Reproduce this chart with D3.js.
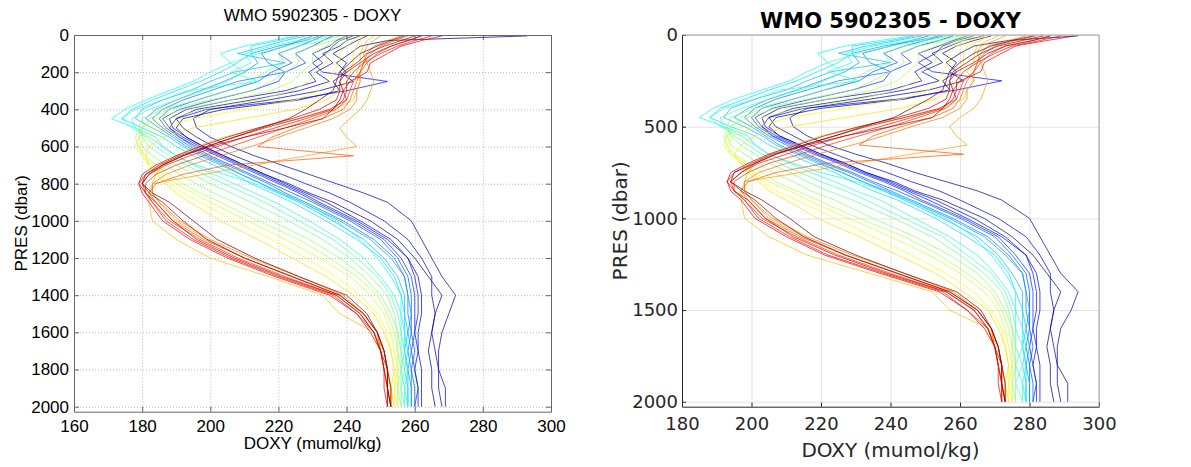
<!DOCTYPE html>
<html><head><meta charset="utf-8">
<script src="https://cdn.jsdelivr.net/npm/d3@7"></script>
<style>body{margin:0;background:#fff}svg{display:block}</style>
</head><body>
<svg id="c" width="1191" height="467"></svg>
<script>
const chartTitle = "WMO 5902305 - DOXY";
const xLabel = "DOXY (mumol/kg)";
const yLabel = "PRES (dbar)";

const pres = [5,30,60,100,150,200,250,300,350,400,450,500,550,600,650,700,750,800,850,900,1000,1100,1200,1300,1400,1500,1600,1700,1800,1900,2000];

// Left panel: raw DOXY profiles (cycle order, blue -> red)
const doxyRaw = [
[293,252,244,241,237,240,236,238,226,204,192,190,193,198,204,210,216,223,229,236,247,255,260,264,268,266,265,264,265,265,266],
[246,243,240,236,240,238,242,232,217,200,195,196,200,206,213,221,229,237,245,252,259,262,265,268,272,270,268,267,267,269,269],
[244,240,238,233,236,231,235,226,212,196,190,192,196,201,207,214,221,228,235,241,251,258,262,265,265,266,265,266,267,267,268],
[240,237,235,230,233,229,231,222,206,193,188,189,193,198,204,210,216,222,228,234,244,253,258,261,262,262,261,261,262,262,262],
[242,238,236,234,230,233,252,240,224,199,190,188,192,197,203,209,215,221,227,232,243,252,258,260,261,261,260,261,260,261,261],
[236,233,230,225,228,222,220,212,201,191,186,188,191,196,202,208,214,220,226,231,242,251,256,259,260,260,260,259,260,261,260],
[233,230,226,220,224,218,214,205,196,188,185,187,191,195,200,206,212,218,224,230,241,250,255,258,259,259,259,260,259,260,260],
[230,226,222,215,217,222,208,200,192,186,183,186,190,194,199,205,211,217,222,228,239,248,254,257,258,258,259,258,259,259,259],
[232,228,220,212,214,210,204,197,190,184,181,185,189,193,198,204,209,215,221,227,238,247,253,257,258,259,258,259,258,259,259],
[228,222,216,208,222,207,200,194,186,180,178,183,188,192,197,203,209,215,220,226,236,245,251,255,257,257,258,257,258,258,258],
[226,220,212,212,208,203,197,190,183,177,174,180,186,190,195,201,207,212,218,224,234,243,250,254,256,257,257,258,257,258,258],
[225,218,210,203,206,200,195,188,181,175,171,178,184,186,190,196,204,213,220,227,237,244,249,253,256,256,257,257,258,257,258],
[234,226,218,210,212,206,214,193,186,178,174,177,182,186,190,195,201,207,213,219,229,238,245,250,254,256,256,257,256,257,257],
[236,230,222,214,206,210,205,198,190,182,177,178,181,184,188,193,198,204,210,216,226,236,243,249,253,255,256,256,257,256,257],
[238,233,226,220,222,216,212,205,196,186,180,179,180,182,186,190,195,200,206,212,223,233,241,247,252,254,255,256,256,256,256],
[240,236,230,225,226,222,218,212,200,188,182,180,179,180,183,187,191,196,201,207,218,229,238,245,250,253,255,255,256,255,256],
[241,238,234,230,230,227,224,218,206,192,184,180,178,179,181,184,188,192,197,203,214,226,235,243,249,252,254,255,255,255,255],
[242,240,237,234,234,231,229,224,214,198,188,182,179,178,180,183,186,190,195,200,211,222,232,241,247,251,253,254,255,254,255],
[244,242,240,238,238,236,235,232,225,210,195,186,181,179,180,182,185,188,192,197,207,218,228,237,244,249,252,253,254,254,254],
[245,244,243,242,242,241,240,238,234,225,210,195,186,182,181,182,184,187,190,194,203,214,224,234,242,248,251,253,254,253,254],
[248,246,245,244,244,243,244,243,242,236,226,214,204,196,190,186,184,183,182,182,183,190,200,217,233,238,248,251,252,253,253],
[250,248,246,245,246,247,248,247,246,244,241,238,240,243,228,213,198,183,183,185,190,199,210,224,238,245,249,251,252,253,253],
[256,252,248,246,245,244,244,243,243,241,236,228,220,212,203,194,187,183,183,185,191,200,212,226,239,245,249,251,252,252,253],
[258,254,250,247,245,244,243,242,241,239,233,225,218,214,242,205,192,184,182,184,189,198,210,224,238,245,249,250,251,252,252],
[262,258,253,249,246,244,242,241,240,237,230,222,214,206,198,190,184,181,181,183,188,197,208,222,237,244,248,250,251,252,252],
[265,260,255,250,245,242,240,240,239,236,228,219,210,202,194,187,182,180,181,183,187,195,206,220,236,243,248,250,251,252,252],
[268,262,256,252,247,246,241,239,240,235,226,216,207,199,191,185,181,179,180,182,186,194,205,219,235,243,247,250,251,251,252],
[262,258,253,248,244,240,238,238,237,232,224,214,205,197,190,184,180,179,181,184,189,196,207,221,237,244,248,250,252,252,253],
[260,256,251,246,243,239,238,239,238,236,233,222,210,200,192,186,182,180,182,186,192,199,210,224,238,245,249,251,252,253,253],
[257,253,249,244,241,238,237,236,232,228,223,215,207,199,192,186,181,180,183,188,195,202,213,226,240,246,249,251,252,252,253]
];

// Right panel: adjusted DOXY profiles
const doxyAdj = [
[294,274,264,260,256,259,255,257,244,220,207,205,208,214,220,227,233,241,247,255,267,275,281,285,289,287,286,285,286,286,287],
[269,264,259,255,259,257,261,251,234,216,211,212,216,222,230,239,247,256,265,272,280,283,286,289,294,292,289,288,288,291,291],
[267,261,257,252,255,249,254,244,229,212,205,207,212,217,224,231,239,246,254,260,271,279,283,286,286,287,286,287,288,288,289],
[262,258,254,248,252,247,249,240,222,208,203,204,208,214,220,227,233,240,246,253,264,273,279,282,283,283,282,282,283,283,283],
[264,259,255,253,248,252,272,259,242,215,205,203,207,213,219,226,232,239,245,251,262,272,279,281,282,282,281,282,281,282,282],
[258,254,248,243,246,240,238,229,217,206,201,203,206,212,218,225,231,238,244,249,261,271,276,280,281,281,281,280,281,282,281],
[255,250,244,238,242,235,231,221,212,203,200,202,206,211,216,222,229,235,242,248,260,270,275,279,280,280,280,281,280,281,281],
[251,246,240,232,234,240,225,216,207,201,198,201,205,210,215,221,228,234,240,246,258,268,274,278,279,279,280,279,280,280,280],
[254,248,238,229,231,227,220,213,205,199,195,200,204,208,214,220,226,232,239,245,257,267,273,278,279,280,279,280,279,280,280],
[249,242,233,225,240,223,216,210,201,194,192,198,203,207,213,219,226,232,238,244,255,265,271,275,278,278,279,278,279,279,279],
[247,240,229,229,225,219,213,205,198,191,188,194,201,205,211,217,224,229,235,242,253,262,270,274,276,278,278,279,278,279,279],
[246,237,227,219,222,216,211,203,195,189,185,192,199,201,205,212,220,230,238,245,256,264,269,273,276,276,278,278,279,278,279],
[256,246,235,227,229,222,231,208,201,192,188,191,197,201,205,211,217,224,230,237,247,257,265,270,274,276,276,278,276,278,278],
[258,250,240,231,222,227,221,214,205,197,191,192,195,199,203,208,214,220,227,233,244,255,262,269,273,275,276,276,278,276,278],
[260,254,244,238,240,233,229,221,212,201,194,193,194,197,201,205,211,216,222,229,241,252,260,267,272,274,275,276,276,276,276],
[262,257,248,243,244,240,235,229,216,203,197,194,193,194,198,202,206,212,217,224,235,247,257,265,270,273,275,275,276,275,276],
[263,259,253,248,248,245,242,235,222,207,199,194,192,193,195,199,203,207,213,219,231,244,254,262,269,272,274,275,275,275,275],
[264,261,256,253,253,249,247,242,231,214,203,197,193,192,194,198,201,205,211,216,228,240,251,260,267,271,273,274,275,274,275],
[267,263,259,257,257,255,254,251,243,227,211,201,195,193,194,197,200,203,207,213,224,235,246,256,264,269,272,273,274,274,274],
[268,266,262,261,261,260,259,257,253,243,227,211,201,197,195,197,199,202,205,210,219,231,242,253,261,268,271,273,274,273,274],
[271,268,265,264,264,262,264,262,261,255,244,231,220,212,205,201,199,198,197,197,198,205,216,234,252,257,268,271,272,273,273],
[273,270,266,265,266,267,268,267,266,264,260,257,259,262,246,230,214,198,198,200,205,215,227,242,257,265,269,271,272,273,273],
[279,274,268,266,265,264,264,262,262,260,255,246,238,229,219,210,202,198,198,200,206,216,229,244,258,265,269,271,272,272,273],
[282,276,270,267,265,264,262,261,260,258,252,243,235,231,261,221,207,199,197,199,204,214,227,242,257,265,269,270,271,272,272],
[286,281,273,269,266,264,261,260,259,256,248,240,231,222,214,205,199,195,195,198,203,213,225,240,256,264,268,270,271,272,272],
[289,283,275,270,265,261,259,259,258,255,246,237,227,218,210,202,197,194,195,198,202,211,222,238,255,262,268,270,271,272,272],
[293,285,276,272,267,266,260,258,259,254,244,233,224,215,206,200,195,193,194,197,201,210,221,237,254,262,267,270,271,271,272],
[286,281,273,268,264,259,257,257,256,251,242,231,221,213,205,199,194,193,195,199,204,212,224,239,256,264,268,270,272,272,273],
[284,278,271,266,262,258,257,258,257,255,252,240,227,216,207,201,197,194,197,201,207,215,227,242,257,265,269,271,272,273,273],
[281,275,269,264,260,257,256,255,251,246,241,232,224,215,207,201,195,194,198,203,211,218,230,244,259,266,269,271,272,272,273]
];

const xTicksLeft = [160,180,200,220,240,260,280,300];
const yTicksLeft = [0,200,400,600,800,1000,1200,1400,1600,1800,2000];
const xTicksRight = [180,200,220,240,260,280,300];
const yTicksRight = [0,500,1000,1500,2000];

const jet = d3.scaleLinear()
  .domain([0,0.125,0.375,0.625,0.875,1])
  .range(["#000080","#0000ff","#00ffff","#ffff00","#ff0000","#800000"]);

const svg = d3.select("#c");
const fmt = d3.format("d");

function panel(cfg, data, id) {
  const x = d3.scaleLinear().domain(cfg.xDomain).range([cfg.left, cfg.right]);
  const y = d3.scaleLinear().domain([0, 2027]).range([cfg.top, cfg.bottom]);
  const g = svg.append("g");
  const w = cfg.right - cfg.left, h = cfg.bottom - cfg.top;

  const gx = g.append("g").attr("transform", `translate(0,${cfg.bottom})`)
    .call(d3.axisBottom(x).tickValues(cfg.xTicks).tickSize(-h).tickFormat(""));
  const gy = g.append("g").attr("transform", `translate(${cfg.left},0)`)
    .call(d3.axisLeft(y).tickValues(cfg.yTicks).tickSize(-w).tickFormat(""));
  [gx, gy].forEach(a => {
    a.select(".domain").remove();
    a.selectAll("line").attr("stroke", cfg.gridColor).attr("stroke-width", 1)
      .attr("stroke-dasharray", cfg.gridDash);
  });

  svg.append("clipPath").attr("id", id).append("rect")
    .attr("x", cfg.left).attr("y", cfg.top).attr("width", w).attr("height", h);

  const line = d3.line().x(d => x(d[0])).y(d => y(d[1]));
  const n = data.length;
  const lg = g.append("g").attr("clip-path", `url(#${id})`);
  data.forEach((prof, i) => {
    lg.append("path")
      .attr("d", line(prof.map((v, k) => [v, pres[k]])))
      .attr("fill", "none")
      .attr("stroke", jet(i / (n - 1)))
      .attr("stroke-width", 1)
      .attr("stroke-opacity", 0.72)
      .attr("stroke-linejoin", "round");
  });

  const ax = g.append("g").attr("transform", `translate(0,${cfg.bottom})`)
    .call(d3.axisBottom(x).tickValues(cfg.xTicks).tickFormat(fmt).tickSizeInner(-cfg.tick).tickSizeOuter(0).tickPadding(cfg.xPad));
  const ay = g.append("g").attr("transform", `translate(${cfg.left},0)`)
    .call(d3.axisLeft(y).tickValues(cfg.yTicks).tickFormat(fmt).tickSizeInner(-cfg.tick).tickSizeOuter(0).tickPadding(cfg.yPad));
  [ax, ay].forEach(a => {
    a.select(".domain").attr("stroke", cfg.axisColor);
    a.selectAll(".tick line").attr("stroke", cfg.axisColor);
    a.selectAll("text").attr("font-family", cfg.font).attr("font-size", cfg.tickSize)
      .attr("fill", cfg.textColor);
  });
  if (cfg.mirrorTicks) {
    const at = g.append("g").attr("transform", `translate(0,${cfg.top})`)
      .call(d3.axisTop(x).tickValues(cfg.xTicks).tickSizeInner(-cfg.tick).tickSizeOuter(0).tickFormat(""));
    const ar = g.append("g").attr("transform", `translate(${cfg.right},0)`)
      .call(d3.axisRight(y).tickValues(cfg.yTicks).tickSizeInner(-cfg.tick).tickSizeOuter(0).tickFormat(""));
    [at, ar].forEach(a => { a.select(".domain").attr("stroke", cfg.boxColor); a.selectAll("line").attr("stroke", cfg.boxColor); });
  } else {
    g.append("line").attr("x1", cfg.left).attr("x2", cfg.right).attr("y1", cfg.top).attr("y2", cfg.top)
      .attr("stroke", cfg.boxColor);
    g.append("line").attr("x1", cfg.right).attr("x2", cfg.right).attr("y1", cfg.top).attr("y2", cfg.bottom)
      .attr("stroke", cfg.boxColor);
  }

  const cx = (cfg.left + cfg.right) / 2, cy = (cfg.top + cfg.bottom) / 2;
  g.append("text").attr("x", cx).attr("y", cfg.titleY).attr("text-anchor", "middle")
    .attr("font-family", cfg.font).attr("font-size", cfg.titleSize).attr("font-weight", cfg.titleWeight)
    .attr("fill", "#000").text(chartTitle);
  g.append("text").attr("x", cx).attr("y", cfg.xLabelY).attr("text-anchor", "middle")
    .attr("font-family", cfg.font).attr("font-size", cfg.labelSize).attr("fill", cfg.textColor).text(xLabel);
  g.append("text").attr("transform", `translate(${cfg.yLabelX},${cy}) rotate(-90)`).attr("text-anchor", "middle")
    .attr("font-family", cfg.font).attr("font-size", cfg.labelSize).attr("fill", cfg.textColor).text(yLabel);
}

panel({
  xDomain: [160, 300], left: 74, right: 551, top: 35, bottom: 411.7,
  xTicks: xTicksLeft, yTicks: yTicksLeft,
  gridColor: "#b8b8b8", gridDash: "1,2", axisColor: "#666", boxColor: "#666", textColor: "#000",
  tick: 5, xPad: 8, yPad: 5, mirrorTicks: true,
  font: "'Liberation Sans', Arial, sans-serif", tickSize: 17, labelSize: 17, titleSize: 17, titleWeight: "normal",
  titleY: 21, xLabelY: 449, yLabelX: 27
}, doxyRaw, "clipL");

panel({
  xDomain: [180, 300], left: 682, right: 1099, top: 35, bottom: 406.7,
  xTicks: xTicksRight, yTicks: yTicksRight,
  gridColor: "#e3e3e3", gridDash: null, axisColor: "#262626", boxColor: "#a0a0a0", textColor: "#262626",
  tick: 4, xPad: 11, yPad: 4, mirrorTicks: false,
  font: "'DejaVu Sans', sans-serif", tickSize: 18, labelSize: 20, titleSize: 21, titleWeight: "bold",
  titleY: 27.5, xLabelY: 457, yLabelX: 627
}, doxyAdj, "clipR");
</script>
</body></html>
